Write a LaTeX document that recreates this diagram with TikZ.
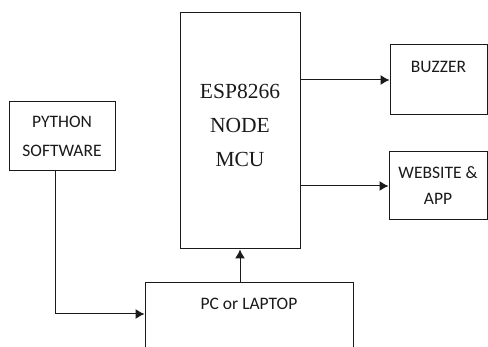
\documentclass[tikz,border=0pt]{standalone}
\usepackage{fontspec}
\setmainfont{Carlito}
\newfontfamily\serifblock{Liberation Serif}
\usetikzlibrary{arrows.meta}
\definecolor{edge}{HTML}{1a1a1a}

\begin{document}
\begin{tikzpicture}[
  x=1pt, y=-1pt,
  line join=miter,
  every node/.style={font=\fontsize{17.5}{26}\selectfont, text=edge},
  block/.style={draw=edge, line width=1pt, inner sep=0pt, align=center},
  caption/.style={inner sep=0pt, anchor=north},
  link/.style={draw=edge, line width=1pt, -{Latex[length=9pt,width=10pt]}},
]
\clip (0,0) rectangle (488,347);
\fill[white] (0,0) rectangle (488,347);
% boxes
\node[block, minimum width=120pt, minimum height=236pt, text depth=12pt,
      font=\serifblock\fontsize{21.5}{34}\selectfont] (mcu) at (240,131) {ESP8266\\NODE\\MCU};
\node[block, minimum width=97pt, minimum height=70pt,
      label={[caption, yshift=-17pt]north:BUZZER}] (buzzer) at (438.5,80) {};
\node[block, minimum width=98pt, minimum height=68pt] (web) at (438,186) {WEBSITE \&\\APP};
\node[block, minimum width=106pt, minimum height=69pt,
      font=\fontsize{17.5}{29}\selectfont] (python) at (62,136.5) {PYTHON\\SOFTWARE};
\node[block, minimum width=208pt, minimum height=82pt,
      label={[caption, yshift=-15pt]north:PC or LAPTOP}] (pc) at (249,324) {};
% connectors
\draw[link] (mcu.east |- buzzer.west) -- (buzzer.west);
\draw[link] (mcu.east |- web.west) -- (web.west);
\draw[link] (mcu.south |- pc.north) -- (mcu.south);
\draw[link] ([xshift=-7pt]python.south) |- ([yshift=10pt]pc.west);
\end{tikzpicture}
\end{document}
